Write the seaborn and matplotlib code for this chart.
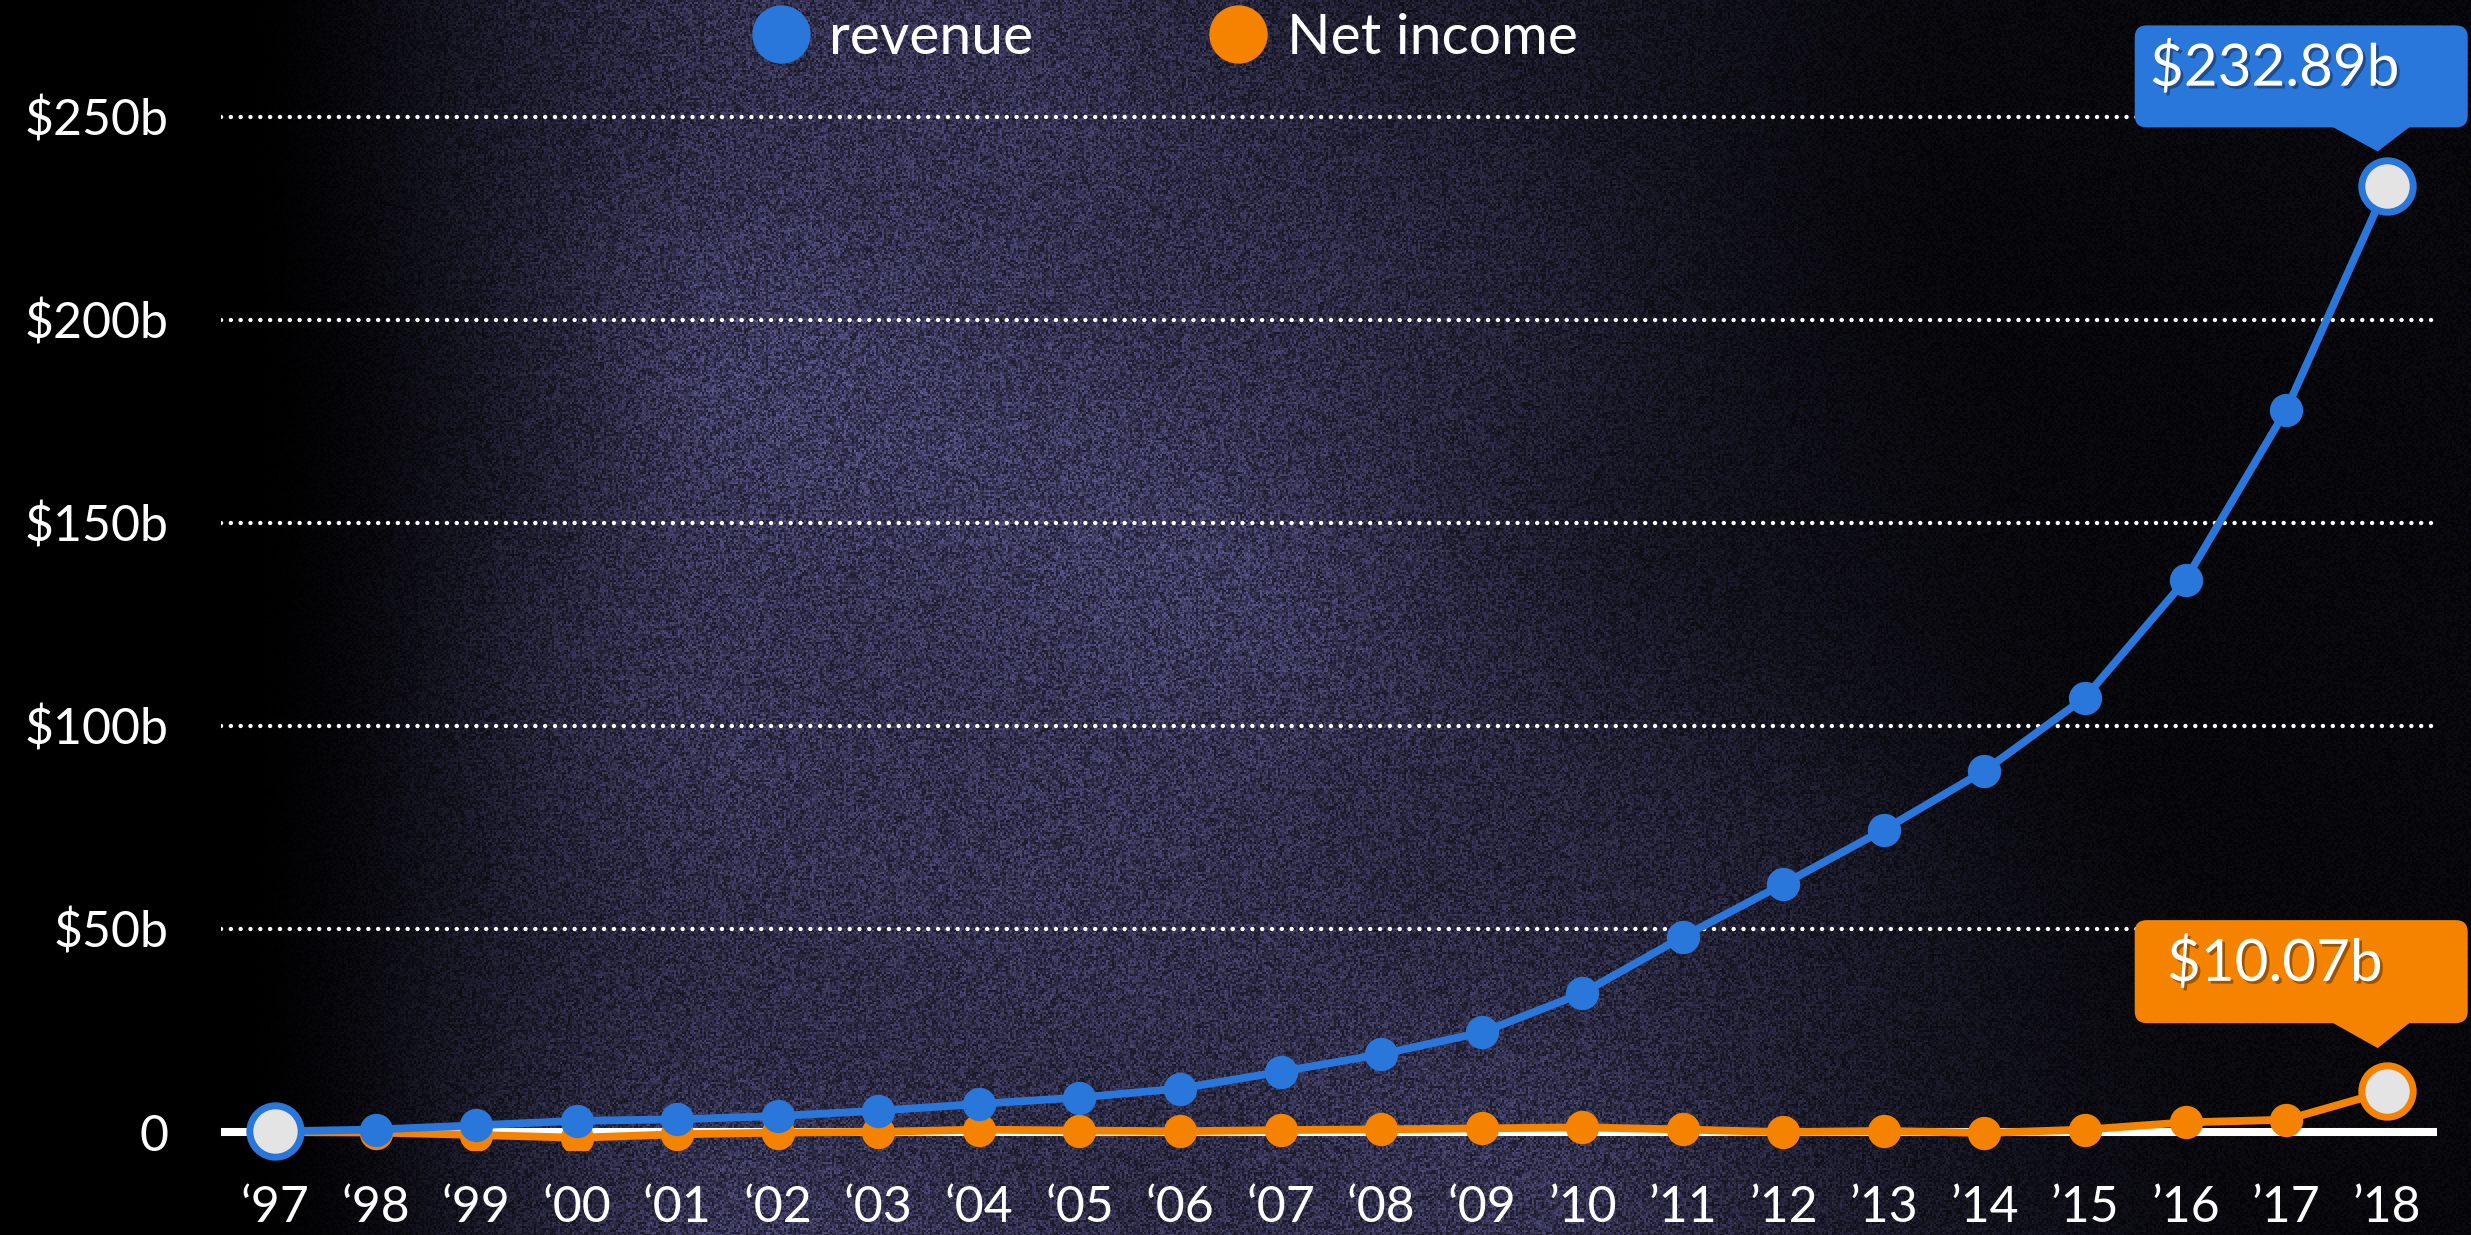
import matplotlib
matplotlib.use("Agg")
import matplotlib.pyplot as plt
import matplotlib.patheffects as pe
from matplotlib.patches import FancyBboxPatch, Polygon
from matplotlib.lines import Line2D
from matplotlib.transforms import IdentityTransform
import seaborn as sns
import numpy as np
import pandas as pd

# ---- data (billions USD) ----
years = list(range(1997, 2019))
revenue = [0.15, 0.61, 1.64, 2.76, 3.12, 3.93, 5.26, 6.92, 8.49, 10.71, 14.84,
           19.17, 24.51, 34.20, 48.08, 61.09, 74.45, 88.99, 107.01, 135.99,
           177.87, 232.89]
net_income = [-0.03, -0.12, -0.72, -1.41, -0.57, -0.15, 0.04, 0.59, 0.36, 0.19,
              0.48, 0.65, 0.90, 1.15, 0.63, -0.04, 0.27, -0.24, 0.60, 2.37,
              3.03, 10.07]
year_labels = ["\u2018%02d" % (y % 100) for y in years[:13]] + \
              ["\u2019%02d" % (y % 100) for y in years[13:]]
y_ticks = [0, 50, 100, 150, 200, 250]
y_labels = ["0", "$50b", "$100b", "$150b", "$200b", "$250b"]
series_names = ["revenue", "Net income"]

BLUE = "#2a77dc"
ORANGE = "#f58300"
GRAY = "#e4e4e4"

df = pd.DataFrame({"idx": range(len(years)), "revenue": revenue, "net": net_income})

sns.set_theme(style="dark")
plt.rcParams["font.family"] = ["Lato", "DejaVu Sans"]

W, H, DPI = 2471, 1235, 100
fig = plt.figure(figsize=(W / DPI, H / DPI), dpi=DPI, facecolor="black")

# ---- textured dark background (decorative) ----
yy, xx = np.mgrid[0:H, 0:W].astype(float)
xf, yf = xx / W, yy / H
def smooth(t):
    t = np.clip(t, 0, 1)
    return t * t * (3 - 2 * t)
env = smooth((xf - 0.09) / 0.22) * (1 - 0.85 * smooth((xf - 0.52 + 0.15 * (1 - yf)) / 0.42))
gx, gy = np.floor(xx / 2), np.floor(yy / 2)
grain = np.modf(np.abs(np.sin(gx * 12.9898 + gy * 78.233) * 43758.5453))[0]
grain2 = np.modf(np.abs(np.sin(xx * 39.346 + yy * 11.135) * 24634.6345))[0]
cloud = 0.85 + 0.12 * np.sin(xf * 9 + 1) * np.sin(yf * 7 + 2) \
        + 0.08 * np.sin(xf * 19 - yf * 5 + 0.5) * np.sin(yf * 13 + xf * 3)
lum = env * (0.25 + 0.6 * grain * (0.6 + 0.4 * grain2)) * cloud * 1.75
base = np.array([72, 70, 112]) / 255.0
img = np.clip(lum[..., None] * base, 0, 1)
bg = fig.add_axes([0, 0, 1, 1])
bg.imshow(img, aspect="auto", extent=(0, 1, 0, 1), interpolation="nearest")
bg.axis("off")

# ---- main axes ----
ax = fig.add_axes([221 / W, 85 / H, 2216 / W, 1150 / H])
ax.set_facecolor("none")
ax.set_xlim(-0.537, 21.5)
ax.set_ylim(-4.43, 278.8)

ax.grid(axis="y", color="white", linestyle=(0, (0.01, 2.2)), linewidth=3.2,
        dash_capstyle="round")
ax.grid(axis="x", visible=False)
ax.axhline(0, color="white", linewidth=5.8, zorder=1.5)

sns.lineplot(data=df, x="idx", y="net", ax=ax, color=ORANGE, linewidth=5.6,
             marker="o", markersize=24, markeredgewidth=0, zorder=2)
sns.lineplot(data=df, x="idx", y="revenue", ax=ax, color=BLUE, linewidth=5.6,
             marker="o", markersize=24, markeredgewidth=0, zorder=3)

# highlighted end points
last = len(years) - 1
ax.scatter([last], [net_income[-1]], s=1369, color=GRAY, edgecolor=ORANGE,
           linewidth=5, zorder=4, clip_on=False)
ax.scatter([0, last], [revenue[0], revenue[-1]], s=1369, color=GRAY,
           edgecolor=BLUE, linewidth=5, zorder=5, clip_on=False)

ax.set_xticks(range(len(years)))
ax.set_xticklabels(year_labels)
ax.set_yticks(y_ticks)
ax.set_yticklabels(y_labels)
ax.set_xlabel("")
ax.set_ylabel("")
ax.tick_params(axis="x", length=0, pad=25, labelsize=36, labelcolor="white")
ax.tick_params(axis="y", length=0, pad=38, labelsize=36, labelcolor="white")
for s in ax.spines.values():
    s.set_visible(False)

# legend
handles = [Line2D([], [], marker="o", linestyle="", markersize=42, color=c,
                  markeredgewidth=0) for c in (BLUE, ORANGE)]
ax.legend(handles, series_names, loc="center", ncol=2, frameon=False,
          bbox_to_anchor=(1165 / W, 1 - 38 / H), bbox_transform=fig.transFigure,
          fontsize=41, labelcolor="white", handlelength=1.0, handletextpad=0.35,
          columnspacing=3.1)

# callout boxes
def callout(val, color, top, bottom, tip, text):
    px, py = ax.transData.transform((last, val))
    box = FancyBboxPatch((px - 252, py + bottom), 333, top - bottom,
                         boxstyle="round,pad=0,rounding_size=12",
                         transform=IdentityTransform(), facecolor=color,
                         edgecolor="none", zorder=6)
    fig.add_artist(box)
    tri = Polygon([(px - 57, py + bottom + 2), (px + 25, py + bottom + 2),
                   (px - 9, py + tip)], closed=True, transform=IdentityTransform(),
                  facecolor=color, edgecolor="none", zorder=6)
    fig.add_artist(tri)
    t = fig.text(px - 112, py + (top + bottom) / 2 + 8, text, transform=IdentityTransform(),
                 ha="center", va="center", fontsize=42, color="white", zorder=7)
    t.set_path_effects([pe.withSimplePatchShadow(offset=(2, -2), shadow_rgbFace="black",
                                                 alpha=0.35)])

callout(revenue[-1], BLUE, 161, 59, 35, "$%.2fb" % revenue[-1])
callout(net_income[-1], ORANGE, 171, 68, 43, "$%.2fb" % net_income[-1])

fig.savefig("out.png", dpi=DPI, facecolor="black")
